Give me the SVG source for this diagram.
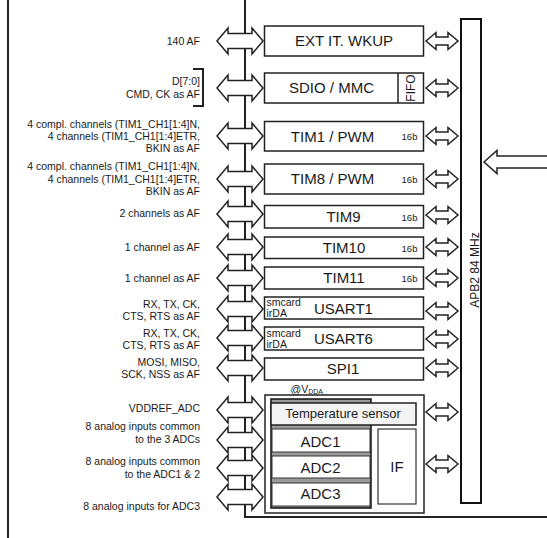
<svg xmlns="http://www.w3.org/2000/svg" xmlns:xlink="http://www.w3.org/1999/xlink" width="547" height="538" viewBox="0 0 547 538">
<style>
.box{fill:#fff;stroke:#222;stroke-width:1.5}
.t{font-family:"Liberation Sans",Arial,sans-serif;fill:#1a1a1a}
.lbl{font-size:10.5px;text-anchor:end}
.bt{font-size:15px;text-anchor:middle}
.b16{font-size:9.5px;text-anchor:middle}
.sm{font-size:10.5px}
.arr{fill:#fff;stroke:#222;stroke-width:1.5}
.ln{fill:none;stroke:#222;stroke-width:2}
</style>
<defs>
<path id="la" d="M0,0 L11,-13 L11,-7.5 L35,-7.5 L35,-13 L46,0 L35,13 L35,7.5 L11,7.5 L11,13 Z"/>
<path id="ra" d="M0,0 L10,-8.5 L10,-4 L22,-4 L22,-8.5 L32,0 L22,8.5 L22,4 L10,4 L10,8.5 Z"/>
</defs>
<rect width="547" height="538" fill="#fff"/>
<line x1="8" y1="0" x2="8" y2="538" class="ln"/>

<g id="connectors">
<path d="M245,0 L245,517 L547,517" class="ln"/>
<g class="arr">
<use xlink:href="#la" x="217" y="41"/>
<use xlink:href="#la" x="217" y="88"/>
<use xlink:href="#la" x="217" y="136"/>
<use xlink:href="#la" x="217" y="179"/>
<use xlink:href="#la" x="217" y="214"/>
<use xlink:href="#la" x="217" y="247"/>
<use xlink:href="#la" x="217" y="278"/>
<use xlink:href="#la" x="217" y="309"/>
<use xlink:href="#la" x="217" y="338"/>
<use xlink:href="#la" x="217" y="368"/>
<use xlink:href="#la" x="217" y="410"/>
<use xlink:href="#la" x="217" y="440"/>
<use xlink:href="#la" x="217" y="468"/>
<use xlink:href="#la" x="217" y="497"/>
<use xlink:href="#ra" x="426" y="41"/>
<use xlink:href="#ra" x="426" y="88"/>
<use xlink:href="#ra" x="426" y="136"/>
<use xlink:href="#ra" x="426" y="179"/>
<use xlink:href="#ra" x="426" y="215"/>
<use xlink:href="#ra" x="426" y="247"/>
<use xlink:href="#ra" x="426" y="278"/>
<use xlink:href="#ra" x="426" y="311"/>
<use xlink:href="#ra" x="426" y="339"/>
<use xlink:href="#ra" x="426" y="368"/>
<use xlink:href="#ra" x="426" y="412"/>
<use xlink:href="#ra" x="426" y="464"/>
<path d="M484,162 L497,150.5 L497,156 L550,156 L550,168 L497,168 L497,173.5 Z"/>
</g>
</g>

<g id="apb2">
<rect x="461" y="19" width="20" height="484" fill="#fff" stroke="#111" stroke-width="2"/>
<text class="t" font-size="12" text-anchor="middle" transform="translate(479,270) rotate(-90)">APB2 84 MHz</text>
</g>

<g id="ext">
<rect class="box" x="264.5" y="26" width="159" height="30"/>
<text class="t bt" x="344" y="46">EXT IT. WKUP</text>
<text class="t lbl" x="200" y="44.5">140 AF</text>
</g>

<g id="sdio">
<rect class="box" x="264.5" y="73" width="159" height="30"/>
<line x1="398" y1="73" x2="398" y2="103" stroke="#222" stroke-width="1.5"/>
<text class="t bt" x="331.5" y="93.3">SDIO / MMC</text>
<text class="t" font-size="12" text-anchor="middle" transform="translate(415,88) rotate(-90)">FIFO</text>
<text class="t lbl" x="200" y="85">D[7:0]</text>
<text class="t lbl" x="200" y="97.7">CMD, CK as AF</text>
<path d="M193,69 L203,69 L203,106 L193,106" class="ln"/>
</g>

<g id="tim1">
<rect class="box" x="264.5" y="121.5" width="159" height="29.5"/>
<text class="t bt" x="332.5" y="141.5">TIM1 / PWM</text>
<text class="t b16" x="409.5" y="140">16b</text>
<text class="t lbl" x="200" y="127.7">4 compl. channels (TIM1_CH1[1:4]N,</text>
<text class="t lbl" x="200" y="139.6">4 channels (TIM1_CH1[1:4]ETR,</text>
<text class="t lbl" x="200" y="151.5">BKIN as AF</text>
</g>

<g id="tim8">
<rect class="box" x="264.5" y="164" width="159" height="30"/>
<text class="t bt" x="332.5" y="184.2">TIM8 / PWM</text>
<text class="t b16" x="409.5" y="182.8">16b</text>
<text class="t lbl" x="200" y="169.5">4 compl. channels (TIM1_CH1[1:4]N,</text>
<text class="t lbl" x="200" y="182.5">4 channels (TIM1_CH1[1:4]ETR,</text>
<text class="t lbl" x="200" y="195.3">BKIN as AF</text>
</g>

<g id="tim9">
<rect class="box" x="264.5" y="205.5" width="159" height="22.5"/>
<text class="t bt" x="343.5" y="221.8">TIM9</text>
<text class="t b16" x="409.5" y="220.8">16b</text>
<text class="t lbl" x="200" y="216.7">2 channels as AF</text>
</g>

<g id="tim10">
<rect class="box" x="264.5" y="237" width="159" height="21.5"/>
<text class="t bt" x="344" y="253.2">TIM10</text>
<text class="t b16" x="409.5" y="251.5">16b</text>
<text class="t lbl" x="200" y="250.7">1 channel as AF</text>
</g>

<g id="tim11">
<rect class="box" x="264.5" y="267" width="159" height="22"/>
<text class="t bt" x="344" y="283.3">TIM11</text>
<text class="t b16" x="409.5" y="282">16b</text>
<text class="t lbl" x="200" y="281.7">1 channel as AF</text>
</g>

<g id="usart1">
<rect class="box" x="264.5" y="297" width="159" height="22"/>
<text class="t sm" x="266.5" y="306">smcard</text>
<text class="t sm" x="266.5" y="316.7">irDA</text>
<text class="t bt" x="343.5" y="314">USART1</text>
<text class="t lbl" x="200" y="308.3">RX, TX, CK,</text>
<text class="t lbl" x="200" y="320">CTS, RTS as AF</text>
</g>

<g id="usart6">
<rect class="box" x="264.5" y="327" width="159" height="23"/>
<text class="t sm" x="266.5" y="336.7">smcard</text>
<text class="t sm" x="266.5" y="347.7">irDA</text>
<text class="t bt" x="343.5" y="344">USART6</text>
<text class="t lbl" x="200" y="336.7">RX, TX, CK,</text>
<text class="t lbl" x="200" y="349">CTS, RTS as AF</text>
</g>

<g id="spi1">
<rect class="box" x="264.5" y="358" width="159" height="22"/>
<text class="t bt" x="343" y="374.3">SPI1</text>
<text class="t lbl" x="200" y="365.7">MOSI, MISO,</text>
<text class="t lbl" x="200" y="378">SCK, NSS as AF</text>
</g>

<g id="adc">
<text class="t" font-size="10.5" x="290.5" y="392.5">@V<tspan font-size="7" dy="1.8">DDA</tspan></text>
<rect class="box" x="265" y="395" width="159" height="118" stroke="#333"/>
<rect x="271" y="399" width="100" height="109" fill="#9a9a9a" stroke="#111" stroke-width="1.5"/>
<rect x="272" y="429" width="98" height="23" fill="#fff" stroke="#333" stroke-width="1"/>
<rect x="272" y="456" width="98" height="22" fill="#fff" stroke="#333" stroke-width="1"/>
<rect x="272" y="483" width="98" height="23" fill="#fff" stroke="#333" stroke-width="1"/>
<rect x="271" y="403" width="145" height="22" fill="#f4f4f4" stroke="#222" stroke-width="1.5"/>
<rect x="378" y="429" width="38" height="75" fill="#fff" stroke="#333" stroke-width="1.2"/>
<text class="t" font-size="13" text-anchor="middle" x="343" y="417.6">Temperature sensor</text>
<text class="t bt" x="320.5" y="446.6">ADC1</text>
<text class="t bt" x="320.5" y="473.2">ADC2</text>
<text class="t bt" x="320.5" y="499.2">ADC3</text>
<text class="t bt" x="397" y="472.3">IF</text>
<text class="t lbl" x="200" y="412">VDDREF_ADC</text>
<text class="t lbl" x="200" y="429.8">8 analog inputs common</text>
<text class="t lbl" x="200" y="443.3">to the 3 ADCs</text>
<text class="t lbl" x="200" y="464.8">8 analog inputs common</text>
<text class="t lbl" x="200" y="478.3">to the ADC1 &amp; 2</text>
<text class="t lbl" x="200" y="509.7">8 analog inputs for ADC3</text>
</g>
</svg>
